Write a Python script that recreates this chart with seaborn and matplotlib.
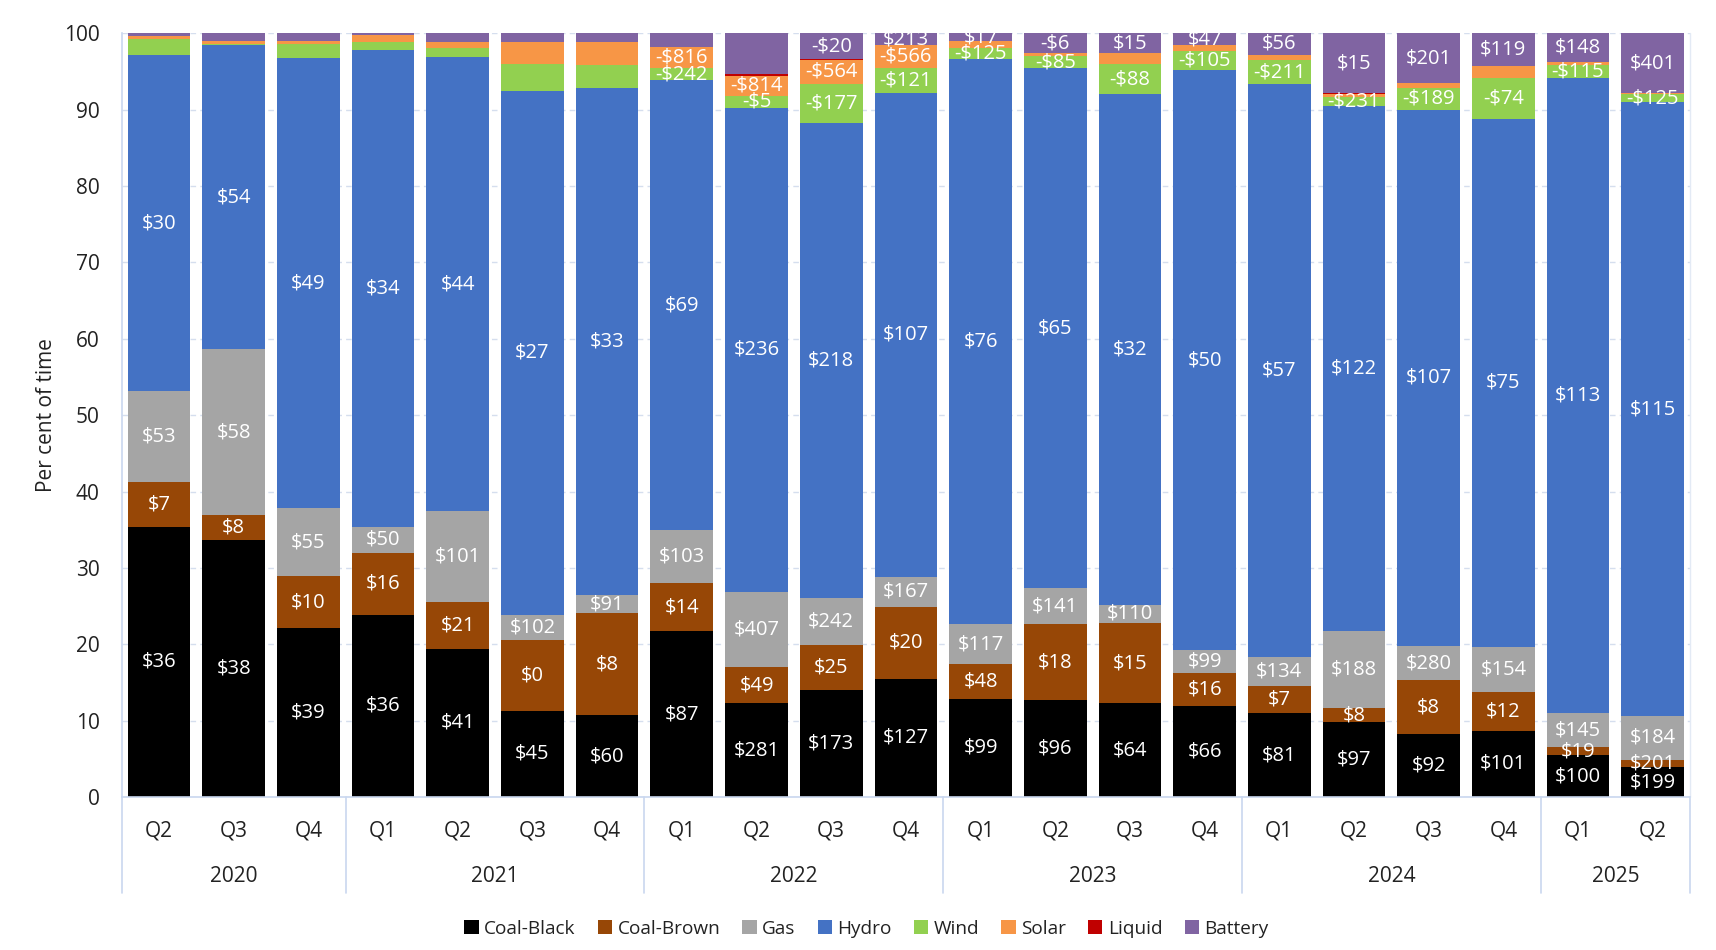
import numpy as np
import pandas as pd
import matplotlib
matplotlib.use("Agg")
import matplotlib.pyplot as plt
import matplotlib.transforms as mtransforms
from matplotlib.patches import Patch
import seaborn as sns

# ---------------- data ----------------
years = ["2020"] * 3 + ["2021"] * 4 + ["2022"] * 4 + ["2023"] * 4 + ["2024"] * 4 + ["2025"] * 2
quarters = ["Q2", "Q3", "Q4",
            "Q1", "Q2", "Q3", "Q4",
            "Q1", "Q2", "Q3", "Q4",
            "Q1", "Q2", "Q3", "Q4",
            "Q1", "Q2", "Q3", "Q4",
            "Q1", "Q2"]

coal_black = [35.4, 33.6, 22.1, 23.9, 19.4, 11.3, 10.7, 21.7, 12.3, 14.0, 15.5,
              12.9, 12.7, 12.3, 11.9, 11.0, 9.8, 8.2, 8.7, 5.5, 3.9]
coal_brown = [5.8, 3.3, 6.8, 8.1, 6.2, 9.2, 13.4, 6.3, 4.7, 5.9, 9.4,
              4.5, 9.9, 10.5, 4.4, 3.5, 1.8, 7.1, 5.0, 1.0, 1.0]
gas = [11.9, 21.7, 8.9, 3.4, 11.8, 3.4, 2.3, 6.9, 9.9, 6.2, 3.9,
       5.2, 4.8, 2.4, 2.9, 3.9, 10.1, 4.5, 6.0, 4.5, 5.7]
hydro = [44.0, 39.8, 58.9, 62.4, 59.5, 68.5, 66.4, 59.0, 63.3, 62.2, 63.4,
         74.0, 68.0, 66.8, 76.0, 74.9, 68.8, 70.2, 69.1, 83.1, 80.4]
wind = [2.1, 0.2, 1.9, 1.0, 1.2, 3.6, 3.0, 1.5, 1.6, 5.1, 3.2,
        1.5, 1.6, 4.0, 2.5, 3.2, 1.1, 2.8, 5.4, 1.8, 1.0]
solar = [0.5, 0.4, 0.4, 1.0, 0.8, 2.9, 3.1, 2.8, 2.6, 3.1, 3.0,
         0.9, 0.4, 1.4, 0.7, 0.7, 0.4, 0.7, 1.5, 0.4, 0.2]
liquid = [0.0, 0.0, 0.0, 0.0, 0.0, 0.0, 0.0, 0.0, 0.3, 0.1, 0.0,
          0.0, 0.0, 0.0, 0.0, 0.0, 0.2, 0.0, 0.0, 0.0, 0.0]
battery = [0.3, 1.0, 1.0, 0.2, 1.1, 1.1, 1.1, 1.8, 5.3, 3.4, 1.6,
           1.0, 2.6, 2.6, 1.6, 2.8, 7.8, 6.5, 4.3, 3.7, 7.8]

coal_black_lbl = ["$36", "$38", "$39", "$36", "$41", "$45", "$60", "$87", "$281", "$173", "$127",
                  "$99", "$96", "$64", "$66", "$81", "$97", "$92", "$101", "$100", "$199"]
coal_brown_lbl = ["$7", "$8", "$10", "$16", "$21", "$0", "$8", "$14", "$49", "$25", "$20",
                  "$48", "$18", "$15", "$16", "$7", "$8", "$8", "$12", "$19", "$201"]
gas_lbl = ["$53", "$58", "$55", "$50", "$101", "$102", "$91", "$103", "$407", "$242", "$167",
           "$117", "$141", "$110", "$99", "$134", "$188", "$280", "$154", "$145", "$184"]
hydro_lbl = ["$30", "$54", "$49", "$34", "$44", "$27", "$33", "$69", "$236", "$218", "$107",
             "$76", "$65", "$32", "$50", "$57", "$122", "$107", "$75", "$113", "$115"]
wind_lbl = [None] * 7 + ["-$242", "-$5", "-$177", "-$121",
                         "-$125", "-$85", "-$88", "-$105",
                         "-$211", "-$231", "-$189", "-$74",
                         "-$115", "-$125"]
solar_lbl = [None] * 7 + ["-$816", "-$814", "-$564", "-$566"] + [None] * 10
liquid_lbl = [None] * 21
battery_lbl = [None] * 9 + ["-$20", "$213",
                            "$17", "-$6", "$15", "$47",
                            "$56", "$15", "$201", "$119",
                            "$148", "$401"]

series_names = ["Coal-Black", "Coal-Brown", "Gas", "Hydro", "Wind", "Solar", "Liquid", "Battery"]
series_values = [coal_black, coal_brown, gas, hydro, wind, solar, liquid, battery]
series_labels = [coal_black_lbl, coal_brown_lbl, gas_lbl, hydro_lbl, wind_lbl, solar_lbl, liquid_lbl, battery_lbl]
series_colors = ["#000000", "#974706", "#A5A5A5", "#4472C4", "#92D050", "#F79646", "#C00000", "#8064A2"]

# ---------------- figure ----------------
sns.set_theme(style="white")
plt.rcParams["font.family"] = ["Open Sans", "DejaVu Sans"]

periods = [f"{y} {q}" for y, q in zip(years, quarters)]
df = pd.DataFrame({"period": periods})
for name, vals in zip(series_names, series_values):
    df[name] = vals

fig = plt.figure(figsize=(17.16, 9.5), dpi=100)
ax = fig.add_axes([0.0709, 0.161, 0.914, 0.804])

bottom = np.zeros(len(periods))
for name, color, lbls in zip(series_names, series_colors, series_labels):
    vals = df[name].to_numpy()
    sns.barplot(data=df, x="period", y=name, order=periods, color=color,
                saturation=1, width=0.84, errorbar=None, linewidth=0,
                bottom=bottom, ax=ax)
    for i, (v, lb) in enumerate(zip(vals, lbls)):
        if lb is not None:
            ax.text(i, bottom[i] + v / 2, lb, ha="center", va="center",
                    color="white", fontsize=14.5, clip_on=True, zorder=5)
    bottom = bottom + vals

ax.set_xlim(-0.5, len(periods) - 0.5)
ax.set_ylim(0, 100)
ax.set_yticks(np.arange(0, 101, 10))
ax.set_ylabel("Per cent of time", fontsize=15, color="#222222", labelpad=5)
ax.set_xlabel("")
ax.set_xticks(range(len(periods)))
ax.set_xticklabels(quarters)
ax.tick_params(axis="x", length=0, pad=17, labelsize=15, labelcolor="#222222")
ax.tick_params(axis="y", length=0, pad=16, labelsize=15, labelcolor="#222222")

ax.yaxis.grid(True, linestyle=(0, (4, 3)), color="#D5DEEE", linewidth=1)
ax.set_axisbelow(True)
for side in ["top", "right"]:
    ax.spines[side].set_visible(False)
ax.spines["left"].set_color("#C9D7EF")
ax.spines["bottom"].set_color("#C9D7EF")
ax.spines["left"].set_linewidth(1.2)
ax.spines["bottom"].set_linewidth(1.2)

# multi-level category axis: year groups
trans = mtransforms.blended_transform_factory(ax.transData, ax.transAxes)
unique_years = list(dict.fromkeys(years))
start = 0
bounds = [-0.5]
for yv in unique_years:
    cnt = years.count(yv)
    center = start + (cnt - 1) / 2
    ax.text(center, -0.104, yv, transform=trans, ha="center", va="center",
            fontsize=15, color="#222222")
    start += cnt
    bounds.append(start - 0.5)
for b in bounds:
    ax.plot([b, b], [0, -0.125], transform=trans, clip_on=False,
            color="#C9D7EF", linewidth=1.2)
ax.plot([len(periods) - 0.5] * 2, [0, 1], transform=trans, clip_on=False,
        color="#E3EAF5", linewidth=1)

handles = [Patch(facecolor=c, edgecolor="none") for c in series_colors]
fig.legend(handles, series_names, loc="center", bbox_to_anchor=(0.505, 0.022),
           ncol=8, frameon=False, handlelength=0.75, handleheight=0.75,
           handletextpad=0.3, columnspacing=1.15, fontsize=13.7,
           labelcolor="#222222")

fig.savefig("out.png", dpi=100)
